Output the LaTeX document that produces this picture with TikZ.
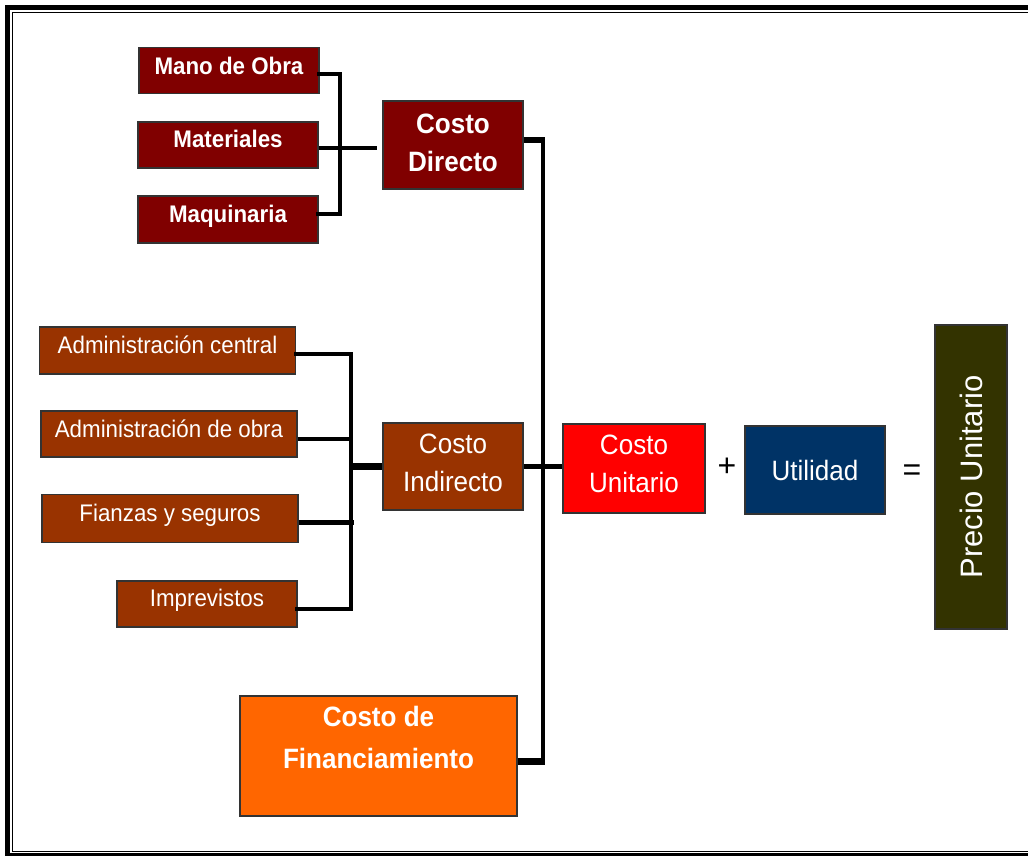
\documentclass[tikz,border=0pt]{standalone}
\usepackage{fontspec}
\setmainfont{Liberation Sans}[FakeStretch=0.93]
\newfontfamily\plainsans{Liberation Sans}
\definecolor{cMaroon}{HTML}{800000}
\definecolor{cBrown}{HTML}{993300}
\definecolor{cRed}{HTML}{FF0000}
\definecolor{cNavy}{HTML}{003366}
\definecolor{cOlive}{HTML}{333300}
\definecolor{cOrange}{HTML}{FF6600}
\begin{document}
\begin{tikzpicture}[x=1pt,y=-1pt,
  box/.style={draw=black!80, line width=1.3pt, inner sep=0pt},
  smallbox/.style={box, minimum height=46pt},
  bigbox/.style={box, minimum width=140pt, minimum height=88pt},
  lblS/.style={text=white, font=\fontsize{24}{28}\selectfont, align=center, inner sep=0pt},
  lblSB/.style={lblS, font=\fontsize{24}{28}\selectfont\bfseries},
  lblL/.style={text=white, font=\fontsize{28}{38}\selectfont, align=center, inner sep=0pt},
  lblLB/.style={lblL, font=\fontsize{28}{38}\selectfont\bfseries},
  conn/.style={line width=4.8pt, line join=miter, line cap=rect},
  thickconn/.style={line width=6.5pt, line join=miter},
  mainline/.style={line width=4.8pt, line join=miter},
  op/.style={font=\plainsans\fontsize{32}{36}\selectfont, inner sep=0pt}]
\useasboundingbox (0,0) rectangle (1028,855);
\fill[white] (0,0) rectangle (1028,855);

% frame
\begin{scope}
\clip (0,0) rectangle (1028,855);
\draw[line width=5pt] (7.5,7.5) rectangle (1050,855.5);
\draw[line width=1.2pt] (12.5,12.5) rectangle (1040,851.5);
\end{scope}

% direct cost group
\node[smallbox, fill=cMaroon, minimum width=180pt,
  label={[lblSB, yshift=5pt]center:Mano de Obra}] (mo) at (229,70.5) {};
\node[smallbox, fill=cMaroon, minimum width=180pt,
  label={[lblSB, yshift=6pt]center:Materiales}] (mat) at (228,145) {};
\node[smallbox, fill=cMaroon, minimum width=180pt, minimum height=47pt,
  label={[lblSB, yshift=3pt]center:Maquinaria}] (maq) at (228,219.5) {};
\node[bigbox, fill=cMaroon,
  label={[lblLB, yshift=2.5pt]center:{Costo\\Directo}}] (cd) at (453,145) {};

% indirect cost group
\node[smallbox, fill=cBrown, minimum width=256pt, minimum height=47pt,
  label={[lblS, yshift=5.5pt]center:Administración central}] (ac) at (167.5,350.5) {};
\node[smallbox, fill=cBrown, minimum width=256pt,
  label={[lblS, yshift=5.5pt]center:Administración de obra}] (ao) at (169,434) {};
\node[smallbox, fill=cBrown, minimum width=256pt, minimum height=48pt,
  label={[lblS, yshift=3pt]center:Fianzas y seguros}] (fs) at (170,518.5) {};
\node[smallbox, fill=cBrown, minimum width=180pt,
  label={[lblS, yshift=3.5pt]center:Imprevistos}] (im) at (207,604) {};
\node[bigbox, fill=cBrown, minimum height=87pt,
  label={[lblL, yshift=4pt]center:{Costo\\Indirecto}}] (ci) at (453,466.5) {};

% financing
\node[box, fill=cOrange, minimum width=277pt, minimum height=120pt,
  label={[lblLB, font=\fontsize{28}{42}\selectfont\bfseries, yshift=19pt]center:{Costo de\\Financiamiento}}] (cf) at (378.5,756) {};

% result chain
\node[bigbox, fill=cRed, minimum width=142pt, minimum height=89pt,
  label={[lblL, yshift=5pt]center:{Costo\\Unitario}}] (cu) at (634,468.5) {};
\node[op] (plus) at (727,467) {+};
\node[bigbox, fill=cNavy,
  label={[lblL]center:Utilidad}] (ut) at (815,470) {};
\node[op] (eq) at (912,473) {=};
\node[box, fill=cOlive, minimum width=72pt, minimum height=304pt,
  label={[text=white, inner sep=0pt, font=\plainsans\fontsize{31}{36}\selectfont, rotate=90]center:Precio Unitario}] (pu) at (971,477) {};

% connectors: direct bracket
\coordinate (jdt) at (340,74);
\coordinate (jdb) at (340,214);
\coordinate (jdm) at (376.5,148);
\draw[conn] (mo.east |- jdt) -- (jdt) -- (jdb) -- (maq.east |- jdb);
\draw[conn, line cap=butt] (mat.east |- jdm) -- (jdm);

% indirect bracket
\coordinate (jit) at (351,354);
\coordinate (jib) at (351,609);
\coordinate (jio) at (351,439);
\coordinate (jif) at (354,522.5);
\coordinate (jic) at (351,466.5);
\draw[conn] (ac.east |- jit) -- (jit) -- (jib) -- (im.east |- jib);
\draw[conn, line cap=butt] (ao.east |- jio) -- (jio);
\draw[conn, line cap=butt] (fs.east |- jif) -- (jif);
\draw[thickconn] (jic) -- (ci.west);

% main vertical
\coordinate (vt) at (543,140);
\coordinate (vb) at (543,761.5);
\draw[mainline] (vt) -- (vb);
\draw[thickconn] (cd.east |- vt) -- ([xshift=2.4pt]vt);
\draw[thickconn] (cf.east |- vb) -- ([xshift=2.4pt]vb);
\draw[line width=5.5pt] (ci.east) -- (ci.east -| cu.west);
\end{tikzpicture}
\end{document}
